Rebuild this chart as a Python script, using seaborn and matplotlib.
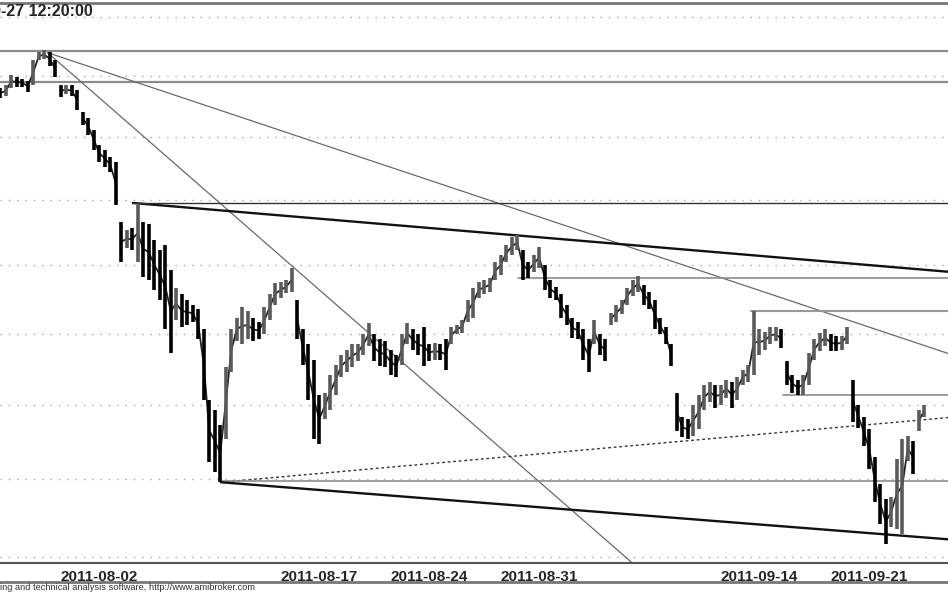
import numpy as np
import pandas as pd
import matplotlib
matplotlib.use("Agg")
import matplotlib.pyplot as plt
import seaborn as sns
from matplotlib.lines import Line2D
from matplotlib.collections import LineCollection
from matplotlib.ticker import NullLocator
from matplotlib.transforms import ScaledTranslation

# intraday index bars, 4 bars per session, from 2011-07-28 to 2011-09-27 12:20
bar_high = [
    2779, 2784, 2802, 2798, 2795, 2792, 2826, 2840, 2843, 2840, 2826,
    2785, 2785, 2784, 2776, 2740, 2731, 2711, 2687, 2679, 2667, 2660,
    2566, 2554, 2557, 2592, 2566, 2562, 2538, 2523, 2531, 2493,
    2467, 2457, 2449, 2442, 2435, 2406, 2307, 2293, 2273, 2352,
    2406, 2423, 2438, 2432, 2423, 2417, 2438, 2457, 2474, 2475,
    2478, 2496, 2449, 2406, 2385, 2363, 2314, 2317, 2342, 2356,
    2370, 2377, 2385, 2385, 2399, 2416, 2399, 2392, 2389, 2377,
    2370, 2399, 2416, 2406, 2399, 2410, 2385, 2387, 2385, 2392,
    2410, 2413, 2420, 2449, 2467, 2475, 2478, 2481, 2505, 2515,
    2531, 2542, 2546, 2523, 2505, 2515, 2528, 2500, 2478, 2468,
    2457, 2442, 2423, 2417, 2406, 2392, 2420, 2399, 2392, 2430,
    2442, 2449, 2467, 2478, 2484, 2471, 2461, 2449, 2423, 2409,
    2385, 2317, 2283, 2280, 2300, 2314, 2328, 2332, 2328, 2328,
    2335, 2332, 2338, 2349, 2356, 2433, 2406, 2403, 2410, 2409,
    2406, 2361, 2342, 2335, 2342, 2373, 2392, 2401, 2406, 2399,
    2396, 2397, 2409, 2335, 2300, 2283, 2267, 2229, 2194, 2174,
    2177, 2227, 2253, 2257, 2251, 2293, 2300,
]
bar_low = [
    2763, 2766, 2779, 2782, 2782, 2773, 2785, 2826, 2829, 2816, 2798,
    2765, 2769, 2766, 2744, 2719, 2703, 2679, 2660, 2651, 2644, 2592,
    2505, 2526, 2523, 2505, 2483, 2478, 2464, 2449, 2406, 2373,
    2420, 2409, 2413, 2417, 2392, 2307, 2223, 2209, 2196, 2253,
    2346, 2389, 2385, 2392, 2389, 2392, 2399, 2420, 2442, 2452,
    2459, 2461, 2392, 2356, 2307, 2253, 2247, 2280, 2293, 2314,
    2338, 2346, 2352, 2361, 2370, 2382, 2361, 2354, 2352, 2342,
    2338, 2356, 2385, 2377, 2370, 2354, 2361, 2363, 2363, 2349,
    2385, 2399, 2401, 2417, 2423, 2452, 2457, 2461, 2478, 2486,
    2505, 2515, 2523, 2478, 2481, 2490, 2496, 2464, 2452, 2449,
    2423, 2413, 2394, 2392, 2363, 2346, 2385, 2370, 2361, 2413,
    2417, 2428, 2442, 2454, 2461, 2442, 2435, 2406, 2399, 2385,
    2354, 2264, 2256, 2253, 2257, 2267, 2293, 2304, 2296, 2300,
    2310, 2296, 2307, 2328, 2332, 2342, 2370, 2377, 2385, 2389,
    2380, 2328, 2317, 2313, 2314, 2328, 2363, 2375, 2382, 2375,
    2375, 2377, 2385, 2276, 2269, 2244, 2213, 2170, 2142, 2116,
    2138, 2135, 2129, 2224, 2207, 2264, 2283,
]
bar_no = list(range(1, len(bar_high) + 1))

tick_bars = [11.5, 51.5, 71.5, 91.5, 131.5, 151.5]
tick_labels = ["2011-08-02", "2011-08-17", "2011-08-24",
               "2011-08-31", "2011-09-14", "2011-09-21"]
grid_levels = [2100, 2200, 2300, 2400, 2500, 2600, 2700, 2800, 2900]

# drawn studies: start bar, start price, end bar, end price
line_x0 = [0.9, 0.9, 9.6, 9.6, 25.1, 25.1, 95.1, 137.5, 143.3, 41.1, 41.1, 41.1]
line_p0 = [2841, 2789, 2839, 2839, 2595, 2595, 2481, 2433, 2313, 2196, 2197, 2196]
line_x1 = [174, 174, 116, 174, 174, 174, 174, 174, 174, 174, 174, 174]
line_p1 = [2841, 2789, 2092, 2370, 2490, 2595, 2481, 2433, 2313, 2283, 2197, 2122]
line_col = ["#8c8c8c", "#8c8c8c", "#6a6a6a", "#6a6a6a", "#111111", "#333333",
            "#8c8c8c", "#999999", "#8c8c8c", "#333333", "#8c8c8c", "#111111"]
line_lw = [1.6, 1.6, 0.9, 0.9, 1.7, 1.0, 1.2, 1.5, 1.2, 1.0, 1.2, 1.7]
line_ls = ["-", "-", "-", "-", "-", "-", "-", "-", "-", (0, (2, 2)), "-", "-"]

df = pd.DataFrame({"bar": bar_no, "high": bar_high, "low": bar_low})
df["mid"] = (df["high"] + df["low"]) / 2
df["color"] = np.where(df["mid"].diff().fillna(-1) > 0, "#5a5a5a", "#000000")

sns.set_style("white")
plt.rcParams["font.family"] = ["Liberation Sans", "DejaVu Sans"]

fig = plt.figure(figsize=(9.48, 5.93), dpi=100)
ax = fig.add_axes([0, 30 / 593, 1, 560 / 593])
ax.set_yscale("log")
ax.set_ylim(2092.5, 2924.5)
ax.set_xlim(0.955, 173.32)

ax.set_yticks(grid_levels)
ax.yaxis.set_minor_locator(NullLocator())
ax.tick_params(axis="y", left=False, right=False, labelleft=False)
ax.grid(axis="y", color="#a8a8a8", linestyle=(0, (1, 5)), linewidth=1)
ax.grid(axis="x", visible=False)

for i in range(len(line_x0)):
    sns.lineplot(x=[line_x0[i], line_x1[i]], y=[line_p0[i], line_p1[i]], ax=ax,
                 color=line_col[i], linewidth=line_lw[i], linestyle=line_ls[i])

# thin trace joining neighbouring bars, skipped where price gapped
segs = []
for a, b in zip(df.index[:-1], df.index[1:]):
    overlap = df.at[a, "low"] <= df.at[b, "high"] and df.at[b, "low"] <= df.at[a, "high"]
    if overlap:
        segs.append([(df.at[a, "bar"], df.at[a, "mid"]), (df.at[b, "bar"], df.at[b, "mid"])])
ax.add_collection(LineCollection(segs, colors="#222222", linewidths=1.3))
ax.vlines(df["bar"], df["low"], df["high"], colors=df["color"], linewidth=2.6)

ax.set_xticks(tick_bars)
ax.set_xticklabels(tick_labels, fontsize=11, fontweight="bold", ha="left")
ax.tick_params(axis="x", direction="out", length=5, width=1, color="#333333", pad=0)
shift = ScaledTranslation(3 / 100, 0, fig.dpi_scale_trans)
for lab in ax.get_xticklabels():
    lab.set_transform(lab.get_transform() + shift)

for side in ["left", "right"]:
    ax.spines[side].set_visible(False)
ax.spines["top"].set_color("#777777")
ax.spines["top"].set_linewidth(2)
ax.spines["bottom"].set_color("#555555")
ax.spines["bottom"].set_linewidth(1.5)
ax.set_xlabel("")
ax.set_ylabel("")

fig.add_artist(Line2D([0, 1], [11 / 593, 11 / 593], transform=fig.transFigure,
                      color="#777777", linewidth=2))
fig.text(93 / 948, 1 - 11 / 593, "2011-09-27 12:20:00", ha="right", va="center",
         fontsize=11.5, fontweight="bold")
fig.text(255 / 948, 5 / 593,
         "Chart created using AmiBroker - advanced charting and technical analysis software, http://www.amibroker.com",
         ha="right", va="center", fontsize=6.7, color="#333333")

fig.savefig("out.png", dpi=100)
